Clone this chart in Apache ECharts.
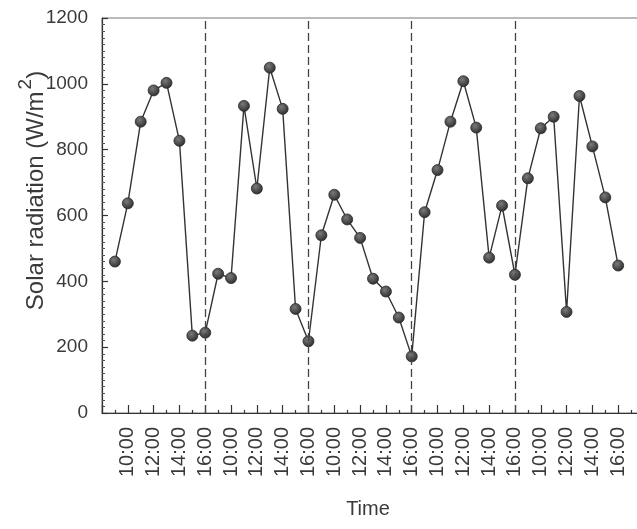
<!DOCTYPE html>
<html>
<head>
<meta charset="utf-8">
<script src="https://cdn.jsdelivr.net/npm/echarts@6/dist/echarts.min.js"></script>
<style>
  html, body { margin: 0; padding: 0; background: #fff; }
  #chart { width: 637px; height: 529px; }
</style>
</head>
<body>
<div id="chart"></div>
<script>
// Hourly readings, 09:00 to 16:00, for five consecutive measuring days
const hours = [9, 10, 11, 12, 13, 14, 15, 16];
const day1 = [460, 637, 885, 980, 1003, 827, 235, 244];
const day2 = [423, 410, 933, 682, 1049, 924, 316, 218];
const day3 = [540, 663, 588, 532, 408, 369, 290, 172];
const day4 = [610, 738, 885, 1008, 867, 472, 630, 420];
const day5 = [713, 865, 900, 307, 963, 810, 655, 448];
const days = [day1, day2, day3, day4, day5];

// Tick labels repeat every day (8 axis units per day, a label every 2 units)
const clockLabels = ['16:00', '10:00', '12:00', '14:00'];
const hoursPerDay = 8;
const dayStartHour = 8;

// Continuous position: day index * 8 + hours past 08:00
const points = [];
days.forEach((vals, d) => {
  vals.forEach((v, i) => {
    points.push([d * hoursPerDay + (hours[i] - dayStartHour), v]);
  });
});
const dayBreaks = [1, 2, 3, 4].map(d => d * hoursPerDay);

const textColor = '#3a3a3a';
const font = 'Liberation Sans, Arial, sans-serif';

const chart = echarts.init(document.getElementById('chart'), null, { renderer: 'canvas' });
chart.setOption({
  backgroundColor: '#ffffff',
  animation: false,
  grid: {
    left: 102, top: 18, width: 542, height: 395,
    outerBoundsMode: 'none',
    containLabel: false,
    show: true, borderColor: '#777', borderWidth: 1, backgroundColor: 'transparent'
  },
  xAxis: {
    type: 'value',
    min: 0, max: 42, interval: 2,
    name: 'Time',
    nameLocation: 'middle',
    nameGap: 86,
    nameMoveOverlap: false,
    nameTextStyle: { fontFamily: font, fontSize: 20, color: textColor, padding: [0, 10, 0, 0] },
    axisLine: { show: true, lineStyle: { color: '#333', width: 1.2 } },
    axisTick: { show: true, inside: true, length: 8, lineStyle: { color: '#333', width: 1.2 } },
    minorTick: { show: true, splitNumber: 2, length: 3, lineStyle: { color: '#333', width: 1.2 } },
    splitLine: { show: false },
    axisLabel: {
      rotate: 90, margin: 14, showMaxLabel: false,
      fontFamily: font, fontSize: 20, color: textColor,
      formatter: v => (v === 0 ? '' : clockLabels[(v / 2) % 4])
    }
  },
  yAxis: {
    type: 'value',
    min: 0, max: 1200, interval: 200,
    name: 'Solar radiation (W/m{sup|2})',
    nameLocation: 'middle',
    nameGap: 45,
    nameMoveOverlap: false,
    nameTextStyle: {
      fontFamily: font, fontSize: 24, color: textColor,
      padding: [0, 0, 0, 50],
      rich: {
        sup: { fontFamily: font, fontSize: 19, color: textColor, padding: [0, 0, 22, 2] }
      }
    },
    axisLine: { show: true, lineStyle: { color: '#333', width: 1.2 } },
    axisTick: { show: true, inside: true, length: 6, lineStyle: { color: '#333', width: 1.2 } },
    minorTick: { show: true, splitNumber: 10, length: 3, lineStyle: { color: '#555', width: 1 } },
    splitLine: { show: false },
    axisLabel: {
      margin: 14, fontFamily: font, fontSize: 19, color: textColor,
      formatter: v => String(v)
    }
  },
  series: [{
    type: 'line',
    data: points,
    symbol: 'circle',
    symbolSize: 11,
    lineStyle: { color: '#333', width: 1.4 },
    itemStyle: {
      color: {
        type: 'radial', x: 0.4, y: 0.35, r: 0.65,
        colorStops: [
          { offset: 0, color: '#7a7a7a' },
          { offset: 1, color: '#2e2e2e' }
        ]
      },
      borderColor: '#2a2a2a',
      borderWidth: 0.8
    },
    z: 3,
    markLine: {
      silent: true,
      symbol: 'none',
      label: { show: false },
      lineStyle: { color: '#444', width: 1.3, type: [8, 4] },
      data: dayBreaks.map(x => ({ xAxis: x }))
    }
  }]
});
</script>
</body>
</html>
